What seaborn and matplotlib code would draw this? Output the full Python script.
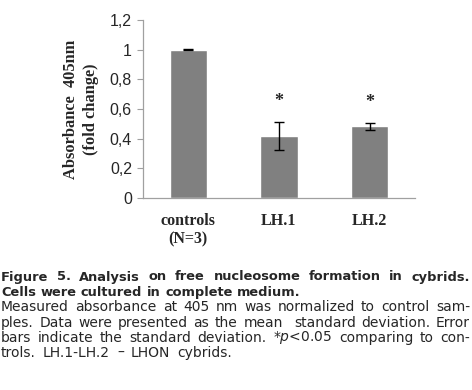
import matplotlib
matplotlib.use("Agg")
import matplotlib.pyplot as plt
import seaborn as sns
import pandas as pd

groups = ["controls\n(N=3)", "LH.1", "LH.2"]
means = [1.0, 0.418, 0.484]
sds = [0.003, 0.092, 0.025]
signif = ["", "*", "*"]
yticks = [0, 0.2, 0.4, 0.6, 0.8, 1.0, 1.2]
ytick_labels = ["0", "0,2", "0,4", "0,6", "0,8", "1", "1,2"]

caption = [
    ("Figure 5. Analysis on free nucleosome formation in cybrids.", True, True),
    ("Cells were cultured in complete medium.", True, False),
    ("Measured absorbance at 405 nm was normalized to control sam-", False, True),
    ("ples. Data were presented as the mean  standard deviation. Error", False, True),
    ("bars indicate the standard deviation. *$p$<0.05 comparing to con-", False, True),
    ("trols. LH.1-LH.2 \u2013 LHON cybrids.", False, False),
]

sns.set_style("white")
df = pd.DataFrame({"group": groups, "value": means})

fig = plt.figure(figsize=(4.72, 3.9), dpi=100)
ax = fig.add_axes([0.303, 0.492, 0.576, 0.457])
sns.barplot(data=df, x="group", y="value", color="#808080", saturation=1,
            width=0.41, errorbar=None, ax=ax)
ax.errorbar(range(len(means)), means, yerr=sds, fmt="none", ecolor="black",
            elinewidth=1, capsize=3.5, capthick=1)
for i, s in enumerate(signif):
    if s:
        ax.text(i, means[i] + sds[i] + 0.08, s, ha="center", va="bottom",
                fontsize=13, fontweight="bold", family="Liberation Serif")

ax.set_ylim(0, 1.2)
ax.set_xlim(-0.5, 2.5)
ax.set_yticks(yticks)
ax.set_yticklabels(ytick_labels, family="Liberation Sans", fontsize=11.5)
ax.set_xticks(range(len(groups)))
ax.set_xticklabels(groups, family="Liberation Serif", fontweight="bold", fontsize=11.5)
ax.tick_params(axis="y", left=True, length=4, width=0.8, color="#a0a0a0", pad=4)
ax.tick_params(axis="x", bottom=False, pad=7)
for side in ["top", "right"]:
    ax.spines[side].set_visible(False)
for side in ["left", "bottom"]:
    ax.spines[side].set_color("#a0a0a0")
    ax.spines[side].set_linewidth(0.9)
ax.set_xlabel("")
ax.set_ylabel("Absorbance  405nm\n(fold change)", family="Liberation Serif",
              fontweight="bold", fontsize=11.8, linespacing=1.3, labelpad=8)

# justified caption
fig.canvas.draw()
renderer = fig.canvas.get_renderer()
left_px, right_px = 1, 470
H = 390
y_px = 277


def text_width(s, **kw):
    t = fig.text(0, 0, s, **kw)
    w = t.get_window_extent(renderer).width
    t.remove()
    return w


for line, bold, justify in caption:
    words = line.split(" ")
    weight = "bold" if bold else "normal"
    font = dict(fontsize=9.4 if bold else 10.0, family="DejaVu Sans", fontweight=weight)
    texts = [fig.text(0, 0, w, va="center", ha="left", **font) for w in words]
    widths = [t.get_window_extent(renderer).width for t in texts]
    sw = text_width("a a", **font) - text_width("aa", **font)
    if justify and len(words) > 1:
        gap = (right_px - left_px - sum(widths)) / (len(words) - 1)
    else:
        gap = sw * (1.0 if bold else 1.6)
    x = left_px
    for t, w in zip(texts, widths):
        t.set_position((x / 472, 1 - y_px / H))
        x += w + gap
    y_px += 15.2

fig.savefig("out.png", dpi=100)
